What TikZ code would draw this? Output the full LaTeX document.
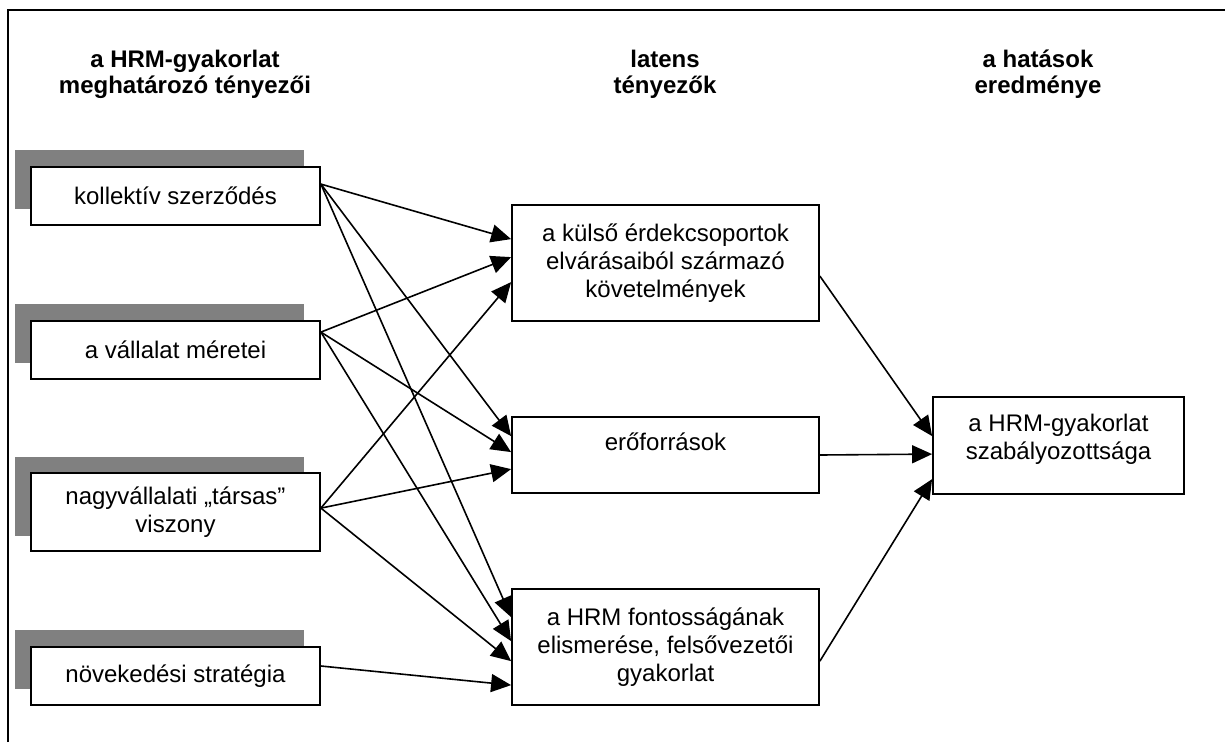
\documentclass[tikz,border=0pt]{standalone}
\usepackage{fontspec}
\setmainfont{Liberation Sans}
\usetikzlibrary{arrows.meta,calc}
\definecolor{shadowgray}{HTML}{808080}
\begin{document}
\begin{tikzpicture}[x=1pt,y=-1pt,
  txt/.style={font=\fontsize{24}{28}\selectfont, align=center, inner sep=0pt},
  hdr/.style={font=\fontsize{24}{26}\selectfont\bfseries, align=center, inner sep=0pt},
  lbox/.style={txt, draw, line width=1.8pt, fill=white, minimum width=289pt},
  mbox/.style={txt, draw, line width=1.8pt, fill=white, minimum width=307pt},
  rbox/.style={txt, draw, line width=1.8pt, fill=white, minimum width=251pt},
  shadowfill/.style={fill=shadowgray},
  arr/.style={line width=1.6pt, -{Triangle[length=20pt,width=18pt]}},
  frameline/.style={line width=2.2pt}]
\useasboundingbox (0,0) rectangle (1225,742);
% frame
\draw[frameline] (8,742) -- (8,10) -- (1225,10);
% headers
\node[hdr] (h1) at (185,74.5) {a HRM-gyakorlat\\meghatározó tényezői};
\node[hdr] (h2) at (665,74) {latens\\tényezők};
\node[hdr] (h3) at (1038,74) {a hatások\\eredménye};
% shadows
\fill[shadowfill] (15,150) rectangle (304,209);
\fill[shadowfill] (15,304) rectangle (304,363);
\fill[shadowfill] (15,457) rectangle (304,536);
\fill[shadowfill] (15,630) rectangle (304,689);
% left boxes
\node[lbox, minimum height=58pt] (l1) at (175.5,196) {kollektív szerződés};
\node[lbox, minimum height=58pt] (l2) at (175.5,350) {a vállalat méretei};
\node[lbox, minimum height=78pt] (l3) at (175.5,512) {nagyvállalati „társas”\\viszony};
\node[lbox, minimum height=58pt] (l4) at (175.5,676) {növekedési stratégia};
% middle boxes
\node[mbox, minimum height=116pt] (m1) at (665.5,263) {a külső érdekcsoportok\\elvárásaiból származó\\követelmények};
\node[mbox, minimum height=76pt] (m2) at (665.5,455) {};
\node[txt] (m2t) at (665.5,442) {erőforrások};
\node[mbox, minimum height=116pt] (m3) at (665.5,647) {a HRM fontosságának\\elismerése, felsővezetői\\gyakorlat};
% right box
\node[rbox, minimum height=97pt] (r) at (1058.5,445.5) {};
\node[txt] (rt) at (1058.5,439) {a HRM-gyakorlat\\szabályozottsága};
% connectors left -> middle
\draw[arr] ([yshift=-18pt]l1.north east) -- ([yshift=-35pt]m1.north west);
\draw[arr] ([yshift=-18pt]l1.north east) -- ([yshift=-20pt]m2.north west);
\draw[arr] ([yshift=-18pt]l1.north east) -- ([yshift=-29pt]m3.north west);
\draw[arr] ([yshift=-12pt]l2.north east) -- ([yshift=-53pt]m1.north west);
\draw[arr] ([yshift=-12pt]l2.north east) -- ([yshift=-36pt]m2.north west);
\draw[arr] ([yshift=-12pt]l2.north east) -- ([yshift=-53pt]m3.north west);
\draw[arr] ([yshift=-36pt]l3.north east) -- ([yshift=-78pt]m1.north west);
\draw[arr] ([yshift=-36pt]l3.north east) -- ([yshift=-53pt]m2.north west);
\draw[arr] ([yshift=-36pt]l3.north east) -- ([yshift=-73pt]m3.north west);
\draw[arr] ([yshift=10pt]l4.east) -- ([yshift=-97pt]m3.north west);
% connectors middle -> right
\draw[arr] ([yshift=-72pt]m1.north east) -- ([yshift=-40pt]r.north west);
\draw[arr] (m2.east) -- ([yshift=-58pt]r.north west);
\draw[arr] ([yshift=-73pt]m3.north east) -- ([yshift=-83pt]r.north west);
\end{tikzpicture}
\end{document}
